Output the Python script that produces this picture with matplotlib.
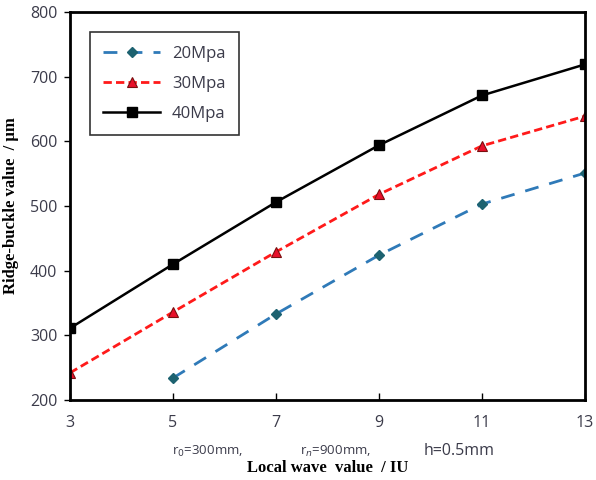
import matplotlib
matplotlib.use("Agg")
import matplotlib.pyplot as plt

x_20 = [5, 7, 9, 11, 13]
y_20 = [234, 333, 424, 503, 551]
x_30 = [3, 5, 7, 9, 11, 13]
y_30 = [242, 336, 429, 518, 593, 639]
x_40 = [3, 5, 7, 9, 11, 13]
y_40 = [311, 410, 506, 594, 671, 719]
x_ticks = [3, 5, 7, 9, 11, 13]
y_ticks = [200, 300, 400, 500, 600, 700, 800]

plt.rcParams["font.family"] = ["Open Sans", "DejaVu Sans"]
tick_color = "#3b3b4a"

fig = plt.figure(figsize=(5.96, 4.8), dpi=100)
ax = fig.add_axes([70 / 596, 80 / 480, 515 / 596, 388 / 480])

ax.plot(x_20, y_20, color="#2f7ab8", linestyle=(0, (5, 4)), linewidth=2,
        marker="D", markersize=5.5, markerfacecolor="#1d6270",
        markeredgecolor="#1d6270", label="20Mpa")
ax.plot(x_30, y_30, color="#ff1a1a", linestyle=(0, (3, 1.5)), linewidth=2,
        marker="^", markersize=7, markerfacecolor="#e8102a",
        markeredgecolor="#7a0f0f", markeredgewidth=0.8, label="30Mpa")
ax.plot(x_40, y_40, color="black", linewidth=1.8,
        marker="s", markersize=7, markerfacecolor="black",
        markeredgecolor="black", label="40Mpa")

ax.set_xlim(3, 13)
ax.set_ylim(200, 800)
ax.set_xticks(x_ticks)
ax.set_yticks(y_ticks)
ax.tick_params(axis="x", direction="in", length=5, pad=11, labelsize=11.5,
               labelcolor=tick_color, width=1)
ax.tick_params(axis="y", direction="out", length=4, pad=5, labelsize=11.5,
               labelcolor=tick_color, width=1)
for s in ax.spines.values():
    s.set_linewidth(2)

ax.set_ylabel("Ridge-buckle value  / μm", family="Liberation Serif",
              fontweight="bold", fontsize=12, labelpad=8)
ax.set_xlabel("Local wave  value  / IU", family="Liberation Serif",
              fontweight="bold", fontsize=12, labelpad=21)

fig.text(172 / 596, 25 / 480, "r$_0$=300mm,", fontsize=9.5, color=tick_color)
fig.text(300 / 596, 25 / 480, "r$_n$=900mm,", fontsize=9.5, color=tick_color)
fig.text(424 / 596, 25 / 480, "h=0.5mm", fontsize=11.5, color=tick_color)

leg = ax.legend(loc="upper left", bbox_to_anchor=(0.039, 0.948),
                fontsize=12, frameon=True, fancybox=False, borderpad=0.8,
                labelspacing=0.85, handlelength=3.4, handletextpad=0.7,
                borderaxespad=0)
leg.get_frame().set_edgecolor("black")
leg.get_frame().set_linewidth(1.2)
for t in leg.get_texts():
    t.set_color(tick_color)

fig.savefig("out.png", dpi=100)
